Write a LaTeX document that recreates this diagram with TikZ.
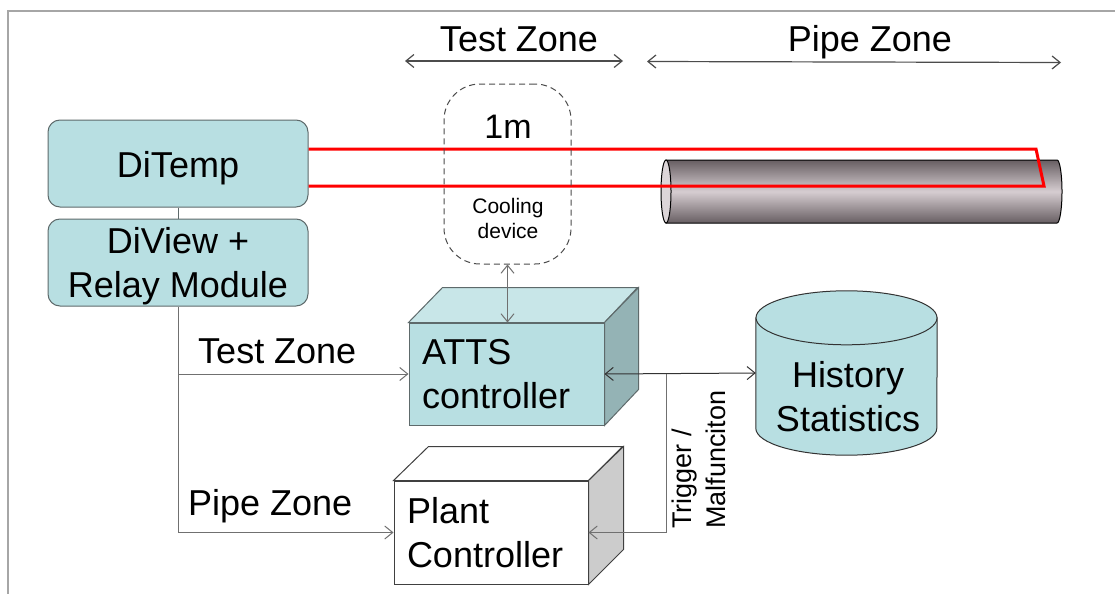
\documentclass[tikz,border=0pt]{standalone}
\usepackage{fontspec}
\setmainfont{Liberation Sans}
\usetikzlibrary{arrows.meta,calc}
\definecolor{tealA}{HTML}{B8DFE2}
\definecolor{tealTop}{HTML}{C8E6E8}
\definecolor{tealSide}{HTML}{94B3B5}
\definecolor{boxborder}{HTML}{5E6A6B}
\definecolor{linegray}{HTML}{707070}
\definecolor{framegray}{HTML}{A6A6A6}
\definecolor{pipedark}{HTML}{675E62}
\definecolor{pipelight}{HTML}{D6CDD1}
\definecolor{pipeend}{HTML}{DCD5D8}
\definecolor{plantside}{HTML}{CCCCCC}
\begin{document}
\begin{tikzpicture}[x=1pt,y=-1pt,
  conn/.style={draw=linegray, line width=1pt},
  tipend/.style={-{Straight Barb[length=8pt,width=13pt]}},
  tipboth/.style={{Straight Barb[length=8pt,width=13pt]}-{Straight Barb[length=8pt,width=13pt]}},
  big/.style={font=\fontsize{36}{44}\selectfont},
  roundbox/.style={draw=boxborder, fill=tealA, rounded corners=12pt, line width=1pt,
    minimum width=260pt, inner sep=0pt},
  cubefront/.style={draw=boxborder, line width=1pt, inner ysep=0pt, inner xsep=13pt, align=left, big},
  plain/.style={inner sep=0pt},
]
\useasboundingbox (0,0) rectangle (1115,594);
\fill[white] (0,0) rectangle (1115,594);
\draw[framegray, line width=1.5pt] (1115,11) -- (8,11) -- (8,594);

% zone headers
\coordinate (tzL) at (405,61);
\coordinate (tzR) at (623,61);
\coordinate (pzL) at (647,61.5);
\coordinate (pzR) at (1061,62.5);
\draw[draw=black!70, line width=1.2pt, tipboth] (tzL) -- (tzR);
\draw[draw=black!70, line width=1.2pt, tipboth] (pzL) -- (pzR);
\node[plain, big, anchor=base] (tzlab) at (519,52) {Test Zone};
\node[plain, big, anchor=base] (pzlab) at (870,52) {Pipe Zone};

% DiTemp and DiView
\node[roundbox, minimum height=87pt] (ditemp) at (178,163.5) {};
\node[plain, big, anchor=base] (ditemptext) at (178,177) {DiTemp};
\node[roundbox, minimum height=87pt] (diview) at (178,262.5) {};
\node[plain, big, align=center] (diviewtext) at (178,266) {DiView +\\Relay Module};
\draw[draw=boxborder, line width=1pt] (ditemp.south) -- (diview.north);

% pipe
\shade[top color=pipedark, bottom color=pipedark, middle color=pipelight, draw=black, line width=1pt]
  (666,160) -- (1057,160) arc[start angle=-90, end angle=90, x radius=5, y radius=31.5] -- (666,223) -- cycle;
\draw[fill=pipeend, draw=black, line width=1pt] (666,191.5) ellipse[x radius=5, y radius=31.5];

% red sensor cable
\draw[red, line width=3pt, line join=miter]
  ($(ditemp.east)+(0,-14.5)$) -- (1036,149) -- (1044,186) -- ($(ditemp.east)+(0,22.5)$);

% cooling device
\node[draw=black!70, dash pattern=on 6pt off 4pt, line width=1pt, rounded corners=36pt,
  minimum width=127pt, minimum height=180pt] (cool) at (507.5,174) {};
\node[plain, font=\fontsize{34}{40}\selectfont] (onem) at (508,127) {1m};
\node[plain, align=center, font=\fontsize{21}{25}\selectfont] (cooltext) at (508,218.5) {Cooling\\device};

% ATTS controller cube
\node[cubefront, fill=tealA, minimum width=195pt, minimum height=102pt, text width=169pt] (atts) at (506.5,374) {ATTS\\controller};
\draw[draw=boxborder, fill=tealTop, line width=1pt] (atts.north west) -- ++(34,-35) -- ++(195,0) -- (atts.north east) -- cycle;
\draw[draw=boxborder, fill=tealSide, line width=1pt] (atts.north east) -- ++(34,-35) -- ++(0,102) -- (atts.south east) -- cycle;

% Plant controller cube
\node[cubefront, draw=black!75, fill=white, minimum width=194pt, minimum height=103pt, text width=168pt] (plant) at (491,532.5) {Plant\\Controller};
\draw[draw=black!75, fill=white, line width=1pt] (plant.north west) -- ++(35,-34) -- ++(194,0) -- (plant.north east) -- cycle;
\draw[draw=black!75, fill=plantside, line width=1pt] (plant.north east) -- ++(35,-34) -- ++(0,103) -- (plant.south east) -- cycle;

% History statistics cylinder
\node[plain, minimum width=181pt, minimum height=110pt] (hist) at (846.5,373) {};
\draw[draw=black!80, fill=tealA, line width=1pt]
  (hist.north west) -- (hist.south west) arc[start angle=180, end angle=0, x radius=90.5, y radius=27] -- (hist.north east) -- cycle;
\draw[draw=black!80, fill=tealA, line width=1pt] (hist.north) ellipse[x radius=90.5, y radius=27];
\node[plain, big, align=center] (histtext) at (848,396.5) {History\\Statistics};

% connectors
\draw[conn, tipboth] (cool.south) -- (cool.south |- atts.north);
\coordinate (j1) at (diview.south |- atts.west);
\draw[conn, tipend] (diview.south) |- (plant.west);
\draw[conn, tipend] (j1) -- (atts.west);
\node[plain, big, anchor=base west] (tzconn) at (198,363) {Test Zone};
\node[plain, big, anchor=base west] (pzconn) at (188,515) {Pipe Zone};

\coordinate (j2) at (666,374);
\draw[draw=black!80, line width=1pt, tipboth] (atts.east) -- (hist.west);
\draw[conn, tipend] (j2) |- (plant.east);
\node[plain, rotate=90, anchor=west, align=left, font=\fontsize{27}{34}\selectfont] (trig) at (699,529) {Trigger /\\Malfunciton};
\end{tikzpicture}
\end{document}
